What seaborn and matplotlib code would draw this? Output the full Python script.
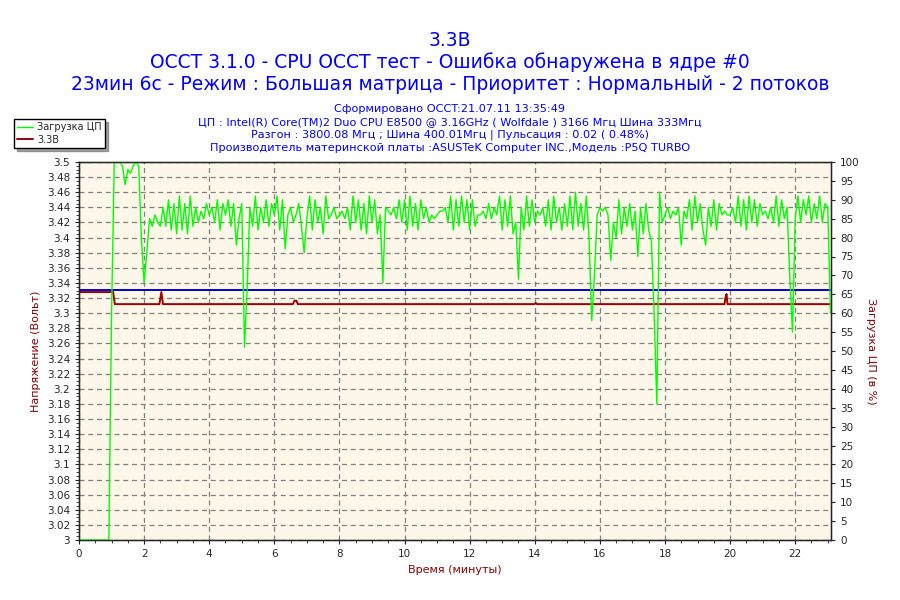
import numpy as np
import pandas as pd
import seaborn as sns
import matplotlib.pyplot as plt
from matplotlib.ticker import MultipleLocator
from matplotlib.lines import Line2D

# Загрузка ЦП (%), один отсчёт каждые 5 секунд, по 12 отсчётов в строке (1 минута)
cpu_load = [
    0, 0, 0, 0, 0, 0, 0, 0, 0, 0, 0, 0,
    60, 100, 100, 100, 99, 94, 98, 97, 99, 100, 99, 80,
    68, 76, 85, 83, 86, 84, 83, 88, 83, 90, 82, 89,
    81, 91, 82, 89, 81, 91, 83, 88, 84, 87, 85, 89,
    86, 88, 84, 90, 82, 89, 86, 90, 83, 89, 78, 85,
    89, 51, 67, 88, 83, 91, 82, 88, 84, 90, 83, 89,
    86, 91, 82, 90, 77, 86, 88, 84, 86, 89, 83, 76,
    85, 91, 82, 90, 84, 88, 81, 91, 85, 86, 88, 85,
    86, 87, 85, 88, 82, 91, 84, 90, 82, 89, 81, 91,
    84, 90, 81, 86, 68, 88, 87, 86, 88, 85, 90, 84,
    90, 82, 91, 83, 89, 82, 90, 85, 88, 84, 86, 85,
    86, 87, 87, 88, 84, 91, 82, 90, 83, 91, 84, 90,
    82, 90, 83, 86, 86, 87, 85, 89, 85, 88, 86, 91,
    82, 90, 83, 91, 81, 84, 69, 88, 82, 91, 83, 90,
    84, 87, 86, 88, 83, 90, 82, 91, 84, 88, 82, 89,
    83, 91, 82, 92, 83, 89, 82, 91, 80, 58, 70, 86,
    88, 87, 88, 86, 74, 84, 80, 90, 81, 88, 83, 89,
    82, 87, 75, 88, 81, 89, 82, 79, 60, 36, 92, 84,
    86, 88, 85, 87, 86, 88, 78, 87, 85, 90, 82, 91,
    84, 89, 82, 78, 88, 83, 90, 82, 89, 86, 87, 86,
    86, 88, 84, 91, 83, 90, 82, 91, 84, 90, 83, 89,
    86, 87, 85, 88, 84, 91, 83, 90, 85, 88, 70, 55,
    85, 91, 84, 90, 86, 91, 84, 89, 85, 91, 84, 89,
    88, 60,
]
sample_step_min = 5 / 60

# Напряжение 3.3В: вершины ломаной (минуты, вольты)
volt_time = [0, 1.05, 1.1, 2.47, 2.53, 2.58, 6.57, 6.62, 6.68, 6.72,
             13.99, 14.03, 14.07, 19.83, 19.85, 19.89, 19.92, 23.1]
volt_value = [3.328, 3.328, 3.312, 3.312, 3.328, 3.312, 3.312, 3.3165, 3.3165, 3.312,
              3.312, 3.3135, 3.312, 3.312, 3.319, 3.3254, 3.312, 3.312]
ref_level = 3.3305

title_lines = ["3.3В",
               "OCCT 3.1.0 - CPU OCCT тест - Ошибка обнаружена в ядре #0",
               "23мин 6с - Режим : Большая матрица - Приоритет : Нормальный - 2 потоков"]
info_lines = ["Сформировано OCCT:21.07.11 13:35:49",
              "ЦП : Intel(R) Core(TM)2 Duo CPU E8500 @ 3.16GHz ( Wolfdale ) 3166 Мгц Шина 333Мгц",
              "Разгон : 3800.08 Мгц ; Шина 400.01Мгц | Пульсация : 0.02 ( 0.48%)",
              "Производитель материнской платы :ASUSTeK Computer INC.,Модель :P5Q TURBO"]

sns.set_style("ticks")
plt.rcParams['font.family'] = ['DejaVu Sans']

load_df = pd.DataFrame({"t": np.arange(len(cpu_load)) * sample_step_min, "load": cpu_load})
volt_df = pd.DataFrame({"t": volt_time, "v": volt_value})

green = "#00ff00"
line_red = "#a00000"
label_red = "#8b0000"
blue_txt = "#0000ff"

fig = plt.figure(figsize=(9, 6), dpi=100)
ax = fig.add_axes([79 / 900, 60 / 600, 752 / 900, 378 / 600])
ax.set_facecolor("#fdf7e9")

ax.axhline(ref_level, color="#0000cc", lw=1.4, zorder=3)
sns.lineplot(data=volt_df, x="t", y="v", ax=ax, color=line_red, lw=1.4,
             estimator=None, legend=False, zorder=2)
ax.set_xlim(0, 23.1)
ax.set_ylim(3.0, 3.5)
ax.xaxis.set_major_locator(MultipleLocator(2))
ax.xaxis.set_minor_locator(MultipleLocator(0.5))
ax.yaxis.set_major_locator(MultipleLocator(0.02))
ax.yaxis.set_minor_locator(MultipleLocator(0.005))
ax.yaxis.set_major_formatter(plt.FuncFormatter(lambda v, p: f"{v:.2f}".rstrip("0").rstrip(".")))
ax.grid(True, which="major", color="#808080", ls=(0, (4, 3)), lw=0.9)
ax.tick_params(labelsize=7.5, length=3, width=0.8)
ax.tick_params(which="minor", length=2, width=0.6)
ax.set_xlabel("Время (минуты)", color=label_red, fontsize=8)
ax.set_ylabel("Напряжение (Вольт)", color=label_red, fontsize=8, labelpad=4)
for s in ax.spines.values():
    s.set_linewidth(1)
    s.set_color("black")

ax2 = ax.twinx()
sns.lineplot(data=load_df, x="t", y="load", ax=ax2, color=green, lw=1.0,
             estimator=None, legend=False)
ax2.set_ylim(0, 100)
ax2.yaxis.set_major_locator(MultipleLocator(5))
ax2.tick_params(labelsize=7.5, length=3, width=0.8)
ax2.set_ylabel("Загрузка ЦП (в %)", color=label_red, fontsize=8, rotation=270, labelpad=12)
ax2.set_xlim(0, 23.1)

# Заголовки
for y, line in zip([40, 62, 84], title_lines):
    fig.text(0.5, 1 - y / 600, line, ha="center", va="center", fontsize=13.5, color=blue_txt)
for y, line in zip([109, 122, 135, 148], info_lines):
    fig.text(0.5, 1 - y / 600, line, ha="center", va="center", fontsize=8.1, color=blue_txt)

handles = [Line2D([], [], color=green, lw=1.0), Line2D([], [], color=line_red, lw=1.4)]
leg = fig.legend(handles, ["Загрузка ЦП", "3.3В"], loc="upper left",
                 bbox_to_anchor=(14 / 900, 1 - 119 / 600), borderaxespad=0, fontsize=7,
                 frameon=True, fancybox=False, shadow=True, edgecolor="black",
                 handlelength=1.6, borderpad=0.35, labelspacing=0.25, handletextpad=0.4)
leg.get_frame().set_linewidth(1)

fig.savefig("out.png", dpi=100, facecolor="white")
